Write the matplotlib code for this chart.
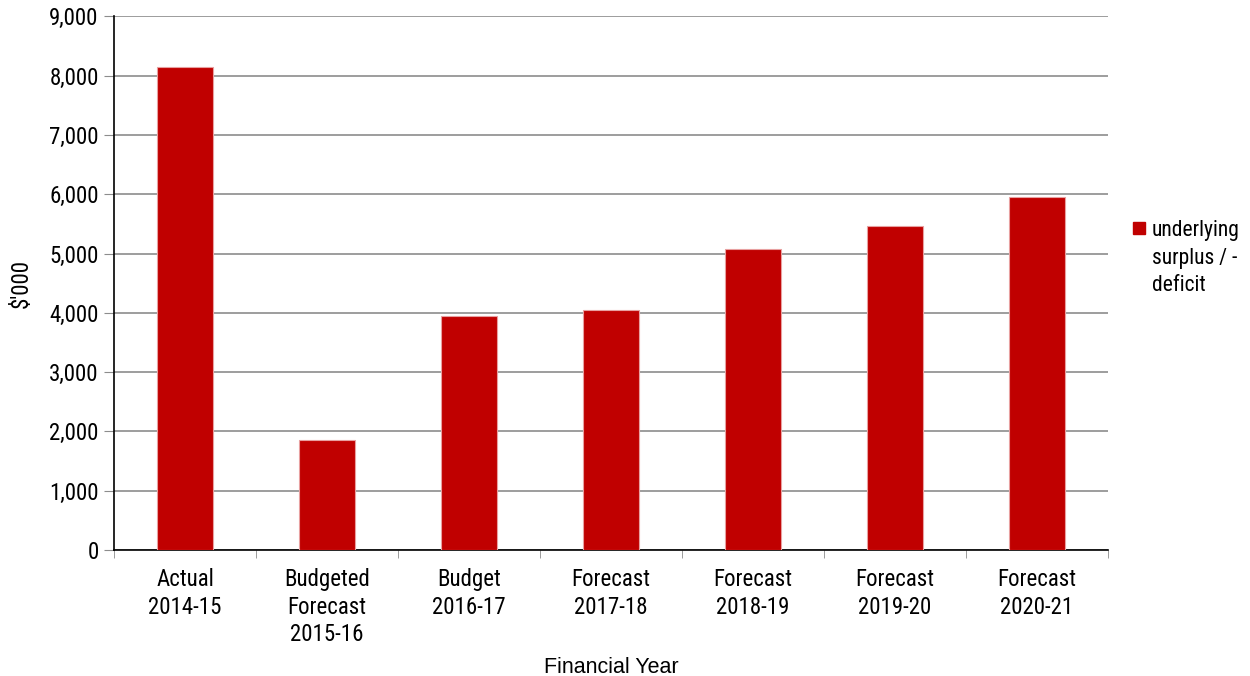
import matplotlib.pyplot as plt
import numpy as np
from matplotlib.patches import Rectangle
from matplotlib.ticker import FuncFormatter

plt.rcParams['font.family'] = ['Roboto Condensed', 'Liberation Sans', 'DejaVu Sans']

years = ['Actual\n2014-15', 'Budgeted\nForecast\n2015-16', 'Budget\n2016-17',
         'Forecast\n2017-18', 'Forecast\n2018-19', 'Forecast\n2019-20', 'Forecast\n2020-21']
surplus = [8150, 1850, 3950, 4040, 5080, 5470, 5950]
series_label = 'underlying\nsurplus / -\ndeficit'
bar_color = '#C00000'

FS = 16.5
fig = plt.figure(figsize=(12.5, 6.76), dpi=100)
ax = fig.add_axes([114/1250, 1-550/676, 994/1250, (550-16.3)/676])

x = np.arange(len(years))
ax.bar(x, surplus, width=0.39, color=bar_color, edgecolor='#E8A0A0', linewidth=0.8, zorder=3)

ax.set_xlim(-0.5, len(years)-0.5)
ax.set_ylim(0, 9000)
ax.set_yticks(np.arange(0, 9001, 1000))
ax.yaxis.set_major_formatter(FuncFormatter(lambda v, p: f'{int(v):,}'))
ax.grid(axis='y', color='#8c8c8c', linewidth=1.2, zorder=0)

# category labels under bars, tick marks on category boundaries
ax.set_xticks(x)
ax.set_xticklabels(years, fontsize=FS, linespacing=1.25)
ax.tick_params(axis='x', length=0, pad=13)
ax.set_xticks(np.arange(-0.5, len(years)), minor=True)
ax.tick_params(axis='x', which='minor', length=6, direction='out', color='#8c8c8c')
ax.tick_params(axis='y', labelsize=FS, length=7, color='#8c8c8c', pad=4)

for s in ['top', 'right']:
    ax.spines[s].set_visible(False)
for s in ['left', 'bottom']:
    ax.spines[s].set_color('black')
    ax.spines[s].set_linewidth(1.2)

ax.set_ylabel("$'000", fontsize=FS, labelpad=12)
ax.set_xlabel('Financial Year', fontsize=15.5, labelpad=8, family='Liberation Sans')

# legend: square key beside the first line of a wrapped label
fig.patches.append(Rectangle((1133/1250, 1-234/676), 12/1250, 12/676,
                             transform=fig.transFigure, color=bar_color))
fig.text(1152/1250, 1-220/676, series_label, fontsize=15.5, va='top', ha='left',
         linespacing=1.42)

fig.savefig('out.png', dpi=100)
